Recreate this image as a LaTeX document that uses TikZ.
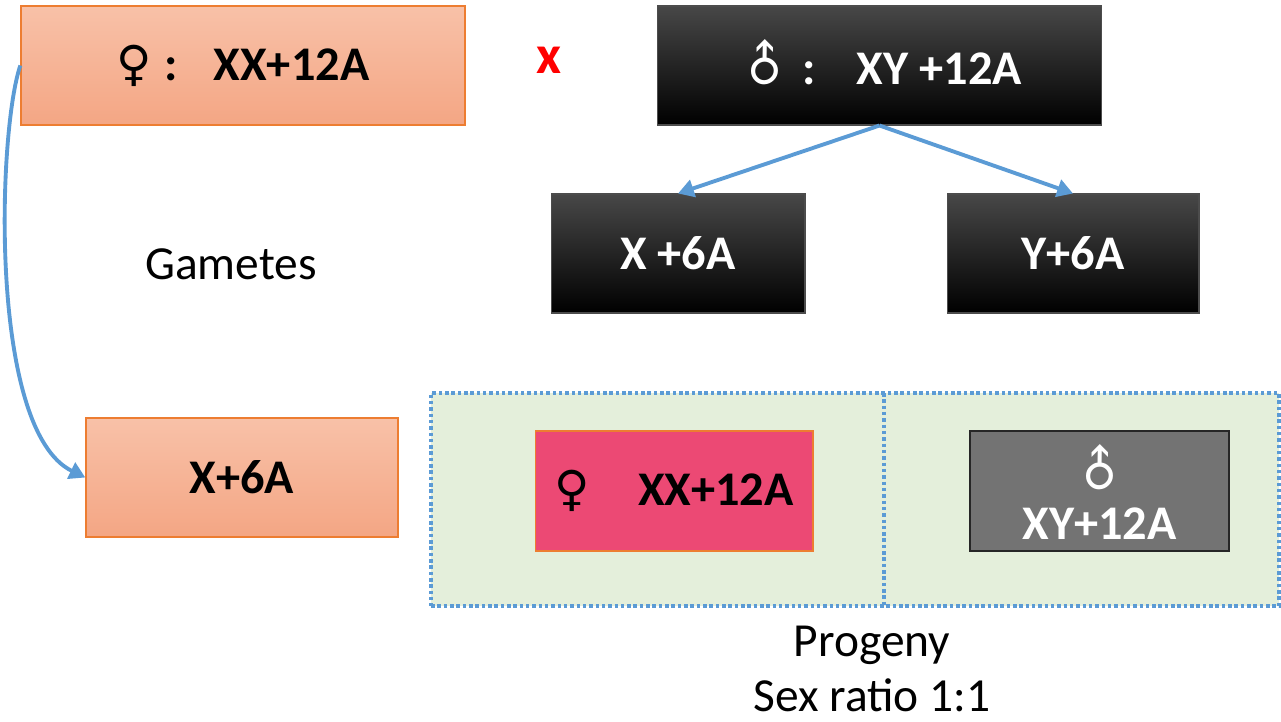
\documentclass[tikz,border=0pt]{standalone}
\usepackage{fontspec}
\setmainfont{Carlito}
\newfontfamily\symfont{DejaVu Sans}
\usetikzlibrary{arrows.meta}

\definecolor{salmonTop}{RGB}{248,193,168}
\definecolor{salmonBot}{RGB}{244,166,132}
\definecolor{orangeLine}{RGB}{237,125,49}
\definecolor{blueLine}{RGB}{91,155,213}
\definecolor{paleGreen}{RGB}{228,239,219}
\definecolor{rosa}{RGB}{236,73,116}
\definecolor{grisBox}{RGB}{115,115,115}

\newcommand{\lbl}{\fontsize{27.5}{32}\selectfont}
\newcommand{\fem}{{\symfont ♀}}
\newcommand{\mas}{\raisebox{0.05em}{\rotatebox[origin=c]{45}{\symfont ♂}}}

\tikzset{
  caja/.style={rectangle, minimum height=2.38cm, inner sep=0pt, font=\lbl\bfseries},
  hembra/.style={caja, draw=orangeLine, line width=0.8pt, top color=salmonTop, bottom color=salmonBot},
  macho/.style={caja, draw=black!70, line width=0.6pt, text=white, top color=black!72, middle color=black, bottom color=black},
  flecha/.style={draw=blueLine, line width=2.2pt, -{Triangle[length=9pt,width=10pt]}},
  punteado/.style={draw=blueLine, line width=2.1pt, dash pattern=on 2pt off 1.6pt},
  texto/.style={font=\fontsize{27}{32}\selectfont},
}

\begin{document}
\begin{tikzpicture}[x=0.02cm,y=-0.02cm]
        \useasboundingbox (0,0) rectangle (1281,721);

        % Progenitores
        \node[hembra, minimum width=8.88cm] (madre) at (243,65.5) {\fem\hspace{0.25em}:\hspace{0.75em}XX+12A};
        \node[text=red, font=\fontsize{31}{34}\selectfont\bfseries] (cruce) at (549,60) {x};
        \node[macho, minimum width=8.9cm] (padre) at (879.5,65.5) {\mas\hspace{0.2em}:\hspace{0.85em}XY +12A};

        % Gametos
        \node[texto] (gametos) at (231,264) {Gametes};
        \node[macho, minimum width=5.08cm] (gamX) at (678,253.5) {X +6A};
        \node[macho, minimum width=5.04cm] (gamY) at (1073,253.5) {Y+6A};
        \node[hembra, minimum width=6.24cm] (ovulo) at (242,477.5) {X+6A};

        \draw[flecha] (padre.south) -- (gamX.north);
        \draw[flecha] (padre.south) -- (gamY.north);
        \draw[flecha] (madre.west) .. controls (-2,130) and (-12,430) .. (ovulo.west);

        % Descendencia
        \node[rectangle, fill=paleGreen, punteado, minimum width=16.96cm, minimum height=4.26cm] (marco) at (855,499.5) {};
        \coordinate (divA) at (884,393);
        \coordinate (divB) at (884,606);
        \draw[punteado] (divA) -- (divB);
        \node[caja, fill=rosa, draw=orangeLine, line width=0.6pt, minimum width=5.56cm, minimum height=2.4cm] (hija) at (674,491) {\fem\hspace{1em}XX+12A};
        \node[caja, fill=grisBox, draw=black!85, line width=0.8pt, text=white, align=center,
              minimum width=5.18cm, minimum height=2.4cm] (hijo) at (1099.5,491) {\mas\\[-4pt]XY+12A};

        % Etiquetas
        \node[texto] (progenie) at (872,645) {Progeny};
        \node[texto] (razon) at (872,695) {Sex ratio 1:1};
    \end{tikzpicture}
\end{document}
